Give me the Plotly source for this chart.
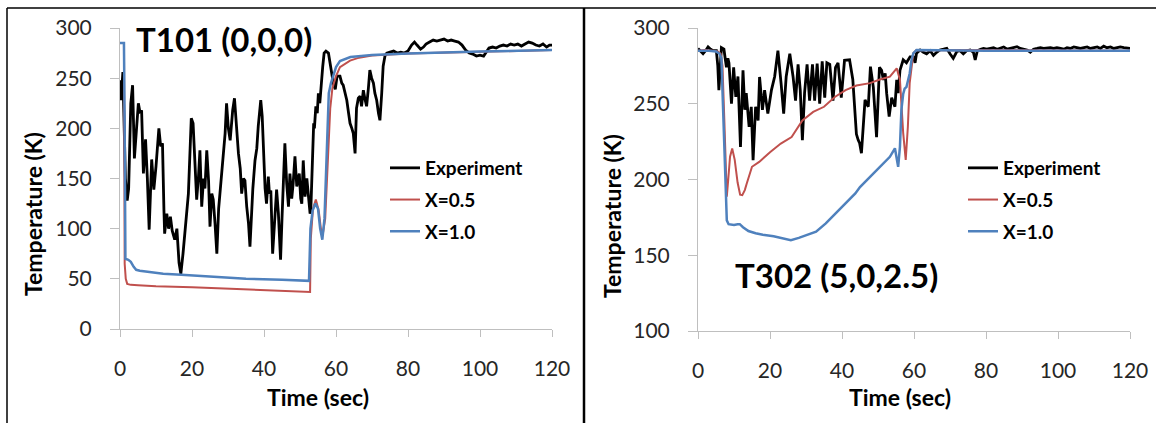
import plotly.graph_objects as go

W, H = 1156, 423

# T101 (0,0,0) - experiment
t101_exp_time = [
    0, 0.3, 0.8, 1.2, 1.5, 2.0, 2.4, 3.0, 3.5, 4.0, 4.5, 5.1, 5.6, 6.0, 6.5, 7.1, 7.6, 8.1, 8.8, 9.4,
    10.0, 10.8, 11.3, 11.8, 12.2, 12.4, 13.0, 13.5, 14.0, 14.5, 15.2, 15.8, 16.4, 16.9, 17.5, 18.0,
    18.4, 19.0, 19.5, 19.8, 20.3, 20.8, 21.3, 21.8, 22.2, 22.7, 23.2, 23.6, 24.1, 24.6, 25.0, 25.5,
    25.9, 26.4, 26.9, 27.4, 28.2, 28.7, 29.2, 29.6, 30.1, 30.6, 31.3, 31.8, 32.3, 32.9, 33.4, 33.8,
    34.3, 34.7, 35.2, 35.7, 36.1, 36.5, 36.9, 37.5, 38.0, 38.4, 39.1, 39.5, 40.0, 40.3, 40.7, 41.2,
    41.5, 41.9, 42.4, 43.0, 43.5, 44.0, 44.2, 44.6, 45.0, 45.4, 45.8, 46.3, 46.8, 47.2, 47.7, 48.1,
    48.6, 49.1, 49.8, 50.2, 50.5, 50.9, 51.4, 51.9, 52.3, 52.8, 53.0, 53.4, 53.8, 54.0, 54.4, 54.8,
    55.1, 55.5, 55.9, 56.3, 56.7, 57.2, 57.9, 58.4, 58.9, 59.3, 59.8, 60.3, 61.1, 61.6, 62.0, 62.5,
    63.0, 63.5, 63.9, 64.4, 64.8, 65.3, 65.7, 66.2, 66.7, 67.1, 67.6, 68.0, 68.5, 69.0, 69.4, 69.9,
    70.4, 70.8, 71.3, 71.8, 72.2, 72.7, 73.1, 73.6, 74.1, 75.0, 76.0, 77.0, 78.0, 79.0, 80.0, 81.0,
    81.8, 82.5, 83.5, 84.3, 85.0, 86.0, 87.0, 88.0, 89.0, 90.0, 91.0, 92.0, 93.0, 94.0, 95.0, 96.0,
    97.0, 98.0, 99.0, 100.0, 101.0, 101.8, 102.5, 103.5, 104.5, 105.5, 106.5, 107.5, 108.5, 109.5,
    110.5, 111.5, 112.5, 113.5, 114.5, 115.5, 116.5, 117.5, 118.5, 119.3, 120.0,
]
t101_exp_temp = [
    248, 228, 256, 200, 150, 128, 140, 225, 243, 170, 200, 225, 215, 218, 155, 189, 150, 99, 169, 139,
    162, 200, 182, 185, 119, 95, 115, 100, 112, 98, 89, 100, 66, 55, 75, 95,
    109, 135, 182, 210, 205, 160, 129, 152, 178, 122, 150, 140, 178, 148, 102, 135,
    129, 105, 75, 120, 152, 170, 195, 225, 200, 188, 218, 230, 202, 175, 160, 135,
    150, 148, 122, 105, 82, 120, 140, 168, 180, 202, 228, 212, 162, 140, 125, 152,
    135, 138, 75, 112, 139, 115, 99, 69, 110, 145, 185, 145, 122, 155, 130, 145,
    172, 142, 155, 130, 125, 168, 132, 150, 132, 115, 118, 165, 205, 200, 222, 215,
    235, 225, 248, 261, 275, 277, 275, 262, 250, 244, 239, 252, 252, 245, 243, 235,
    228, 215, 205, 200, 195, 175, 220, 230, 232, 222, 238, 230, 222, 240, 258, 250,
    245, 235, 228, 215, 208, 235, 262, 272, 275, 276, 277, 275, 276, 275, 277, 283,
    286, 283, 279, 281, 284, 286, 288, 287, 288, 289, 287, 288, 287, 286, 283, 278,
    275, 274, 272, 273, 272, 276, 280, 281, 280, 282, 283, 282, 284, 283,
    284, 282, 284, 286, 285, 283, 282, 284, 281, 283, 283,
]

# T101 (0,0,0) - model X=0.5
t101_x05_time = [
    0, 1.1, 1.3, 1.6, 2.0, 3.0, 5.0, 10.0, 20.0, 30.0, 40.0, 52.8, 53.0, 53.6, 54.4, 55.2, 55.8,
    56.4, 57.0, 57.5, 58.0, 58.4, 59.0, 59.9, 61.1, 63.9, 66.0, 70.0, 80.0, 100.0, 120.0,
]
t101_x05_temp = [
    285, 285, 65, 50, 45, 44, 43.5, 42.5, 41.5, 40, 38.5, 37, 90, 120, 129, 118, 100,
    96, 110, 150, 188, 220, 240, 251, 261, 267.5, 270, 272.5, 274.5, 276.5, 278,
]

# T101 (0,0,0) - model X=1.0
t101_x10_time = [
    0, 1.1, 1.3, 1.5, 2.3, 3.0, 3.8, 4.5, 5.5, 8.0, 12.0, 17.0, 25.0, 35.0, 45.0, 52.5, 52.9,
    53.5, 54.3, 55.0, 55.6, 56.2, 56.8, 57.2, 57.6, 58.0, 58.6, 59.3, 60.0, 61.1, 64.0, 70.0,
    80.0, 100.0, 120.0,
]
t101_x10_temp = [
    285, 285, 200, 70, 69, 67, 62, 59, 58, 57, 55, 54, 52, 50, 49, 48, 100,
    118, 125, 120, 100, 89, 110, 150, 208, 235, 245, 252, 261, 267, 271, 273,
    274.5, 276.5, 278,
]

# T302 (5,0,2.5) - experiment
t302_exp_time = [
    0, 0.7, 1.4, 2.1, 2.8, 3.5, 4.2, 5.1, 5.5, 5.8, 6.2, 6.5, 7.2, 7.9, 8.3, 8.6, 9.3, 9.9, 10.5,
    11.1, 11.8, 12.5, 13.0, 13.4, 14.2, 14.8, 15.3, 16.0, 16.7, 17.1, 17.9, 18.5, 19.4, 20.4, 21.3,
    22.2, 23.1, 23.8, 24.5, 25.5, 26.4, 27.1, 27.8, 28.4, 29.0, 29.6, 30.3, 31.0, 31.8, 32.4, 33.1,
    33.8, 34.5, 35.2, 35.8, 36.6, 37.5, 38.2, 38.9, 39.8, 40.7, 42.1, 43.0, 43.6, 44.0, 44.5, 44.9,
    45.4, 46.0, 46.4, 47.3, 47.9, 48.7, 49.6, 50.4, 51.0, 51.5, 52.0, 52.4, 53.1, 53.8, 54.7, 55.2,
    55.6, 56.1, 57.0, 57.9, 58.9, 59.8, 60.3, 60.7, 61.7, 62.6, 63.5, 64.5, 65.4, 66.3, 67.2, 68.2,
    69.1, 70.0, 70.9, 71.9, 72.8, 73.7, 74.6, 75.6, 76.5, 77.0, 77.6, 78.5, 79.3, 80.2, 81.2, 82.1,
    83.1, 84.0, 84.9, 85.9, 86.8, 87.7, 88.6, 89.5, 90.5, 91.4, 92.3, 93.2, 94.2, 95.1, 96.0, 97.0,
    97.9, 98.8, 99.7, 100.7, 101.6, 102.5, 103.4, 104.4, 105.3, 106.2, 107.2, 108.1, 109.0, 110.0,
    110.9, 111.8, 112.7, 113.6, 114.6, 115.5, 116.4, 117.3, 118.3, 119.2, 120.0,
]
t302_exp_temp = [
    286.4, 285, 283, 285, 287.5, 286, 285, 285, 275, 259, 280, 287, 286, 274, 280, 277, 250, 274, 254.5,
    268, 221.5, 272, 246, 257, 234.7, 248, 212.7, 248, 239, 267.7, 246, 259, 243.5, 259, 268,
    285, 263, 243.5, 268, 283, 268, 252, 276, 259, 226, 257, 276, 252, 276, 252, 276.5,
    250, 278, 254, 277, 276, 252, 274, 277, 254, 278.7, 279, 266, 245, 230, 226, 224,
    217.4, 240, 252.5, 248, 274.5, 261, 228, 274, 272, 265.7, 270, 257, 241.5, 254, 248, 265.7,
    257, 272, 279, 277, 281, 281, 277, 283.3, 285.5, 284, 283, 285, 282, 284, 285.5, 286,
    286.5, 283, 280, 284.5, 285, 283, 285, 285.5, 284, 279, 285, 286, 286.5, 286, 286.5, 287,
    286, 286.5, 287.5, 286, 286.5, 287, 287.7, 286.5, 286, 285.5, 284, 286, 286.5, 287, 286.5, 287,
    287, 286.5, 287, 286.5, 286, 287, 286.5, 287.5, 287, 286.5, 287, 287.5, 286.5, 287,
    287.5, 286.5, 288, 287, 287.5, 286.5, 287, 287.5, 287, 286.5, 286.5,
]

# T302 (5,0,2.5) - model X=0.5
t302_x05_time = [
    0, 2.0, 4.0, 5.5, 6.3, 6.8, 7.3, 7.7, 8.0, 8.4, 8.9, 9.5, 10.2, 11.0, 11.7, 12.3, 13.0, 13.5,
    15.0, 17.0, 20.0, 23.0, 26.0, 29.0, 32.0, 35.0, 38.0, 41.0, 44.0, 47.8, 50.5, 53.3, 55.2, 56.1,
    57.0, 57.7, 58.3, 58.8, 59.8, 60.7, 70.0, 90.0, 120.0,
]
t302_x05_temp = [
    285, 285.5, 285, 284.5, 283, 275, 240, 200, 188.6, 200, 215, 220.4, 213, 198, 190, 189.7, 193, 197,
    208.4, 211.6, 218, 223.7, 228, 239, 244.6, 248, 254.5, 259, 262, 263.6, 266, 267.9, 273.4, 265.7,
    230.6, 212.9, 235, 263.6, 283.3, 285.5, 285.5, 285, 285,
]

# T302 (5,0,2.5) - model X=1.0
t302_x10_time = [
    0, 3.0, 5.0, 6.0, 6.5, 6.9, 7.3, 7.7, 8.0, 8.5, 10.0, 11.0, 11.6, 12.5, 14.0, 16.0, 18.0, 21.0,
    24.0, 25.8, 28.0, 30.0, 32.8, 35.5, 38.2, 41.0, 43.7, 45.0, 47.8, 50.6, 53.3, 54.7, 55.2, 55.6,
    56.1, 56.5, 57.0, 57.4, 57.9, 58.3, 58.8, 59.3, 59.8, 60.7, 80.0, 100.0, 120.0,
]
t302_x10_temp = [
    285, 285, 284.5, 283, 280, 250, 210, 180, 173, 170.5, 170, 170.5, 170.5, 168.5, 166, 164.5, 163.5, 162.5,
    161, 160, 161.5, 163, 165.5, 171, 177.6, 184, 190.8, 195, 201.8, 208.4, 215, 220.6, 215, 208.4,
    221.7, 245.9, 256.5, 260, 261, 265.7, 270, 278.8, 283.3, 285.5, 285, 285, 285,
]

x_ticks = [0, 20, 40, 60, 80, 100, 120]
t101_y_ticks = [0, 50, 100, 150, 200, 250, 300]
t302_y_ticks = [100, 150, 200, 250, 300]

BLACK = "#000000"
RED = "#c0504d"
BLUE = "#4f81bd"
FONT = "Lato"
AXIS_GREY = "#bfbfbf"


def px_x(p):
    return p / W


def px_y(p):
    return 1 - p / H


fig = go.Figure()

panels = [
    ("x", "y", "legend", t101_exp_time, t101_exp_temp, t101_x05_time, t101_x05_temp, t101_x10_time, t101_x10_temp),
    ("x2", "y2", "legend2", t302_exp_time, t302_exp_temp, t302_x05_time, t302_x05_temp, t302_x10_time, t302_x10_temp),
]
for xa, ya, leg, et, ev, rt, rv, bt, bv in panels:
    series = [
        ("Experiment", et, ev, BLACK, 2.8),
        ("X=0.5", rt, rv, RED, 2),
        ("X=1.0", bt, bv, BLUE, 2.5),
    ]
    for name, xs, ys, color, width in series:
        fig.add_trace(go.Scatter(x=xs, y=ys, mode="lines", name=name, xaxis=xa, yaxis=ya,
                                 legend=leg, legendgroup=leg + name,
                                 line=dict(color=color, width=width)))

tick_font = dict(family=FONT, size=21, color="#262626")
xaxis_style = dict(
    range=[0, 120], tickvals=x_ticks, showgrid=False, zeroline=False, showline=True,
    linecolor=AXIS_GREY, linewidth=1, ticks="outside", ticklen=7, tickcolor=AXIS_GREY,
    tickfont=tick_font, ticklabelstandoff=14, automargin=False,
)
yaxis_style = dict(
    showgrid=False, zeroline=False, showline=True, linecolor=AXIS_GREY, linewidth=1,
    ticks="outside", ticklen=9, tickcolor=AXIS_GREY, tickfont=tick_font, ticklabelstandoff=14,
    automargin=False,
)

legend_style = dict(
    font=dict(family=FONT, size=19, color="#000000", weight="bold"), bgcolor="rgba(0,0,0,0)",
    xanchor="left", yanchor="top", itemwidth=30, tracegroupgap=4,
)

fig.update_layout(
    width=W, height=H, margin=dict(l=0, r=0, t=0, b=0, autoexpand=False),
    paper_bgcolor="white", plot_bgcolor="white",
    xaxis=dict(domain=[px_x(120), px_x(552)], anchor="y", **xaxis_style),
    yaxis=dict(domain=[px_y(329), px_y(28)], anchor="x", range=[0, 300], tickvals=t101_y_ticks, **yaxis_style),
    xaxis2=dict(domain=[px_x(698), px_x(1130)], anchor="y2", **xaxis_style),
    yaxis2=dict(domain=[px_y(331), px_y(28)], anchor="x2", range=[100, 300], tickvals=t302_y_ticks, **yaxis_style),
    legend=dict(x=px_x(385), y=px_y(149), **legend_style),
    legend2=dict(x=px_x(963), y=px_y(149), **legend_style),
    showlegend=True,
)

title_font = dict(family=FONT, size=23, color="#000000", weight="bold")
label_font = dict(family=FONT, size=33, color="#000000", weight="bold")
annotations = [
    dict(text="Time (sec)", x=px_x(318), y=px_y(397), font=title_font),
    dict(text="Time (sec)", x=px_x(900), y=px_y(397), font=title_font),
    dict(text="Temperature (K)", x=px_x(33), y=px_y(214), font=title_font, textangle=-90),
    dict(text="Temperature (K)", x=px_x(612), y=px_y(216), font=title_font, textangle=-90),
    dict(text="T101 (0,0,0)", x=px_x(224), y=px_y(39), font=label_font),
    dict(text="T302 (5,0,2.5)", x=px_x(836), y=px_y(275), font=label_font),
]
for a in annotations:
    fig.add_annotation(xref="paper", yref="paper", showarrow=False, xanchor="center", yanchor="middle", **a)

# panel frames
frame = dict(type="line", xref="paper", yref="paper", line=dict(color="#000000", width=1.5))
fig.add_shape(x0=px_x(7), x1=1, y0=px_y(8), y1=px_y(8), **frame)
fig.add_shape(x0=px_x(7), x1=px_x(7), y0=px_y(8), y1=0, **frame)
fig.add_shape(type="line", xref="paper", yref="paper", x0=px_x(584), x1=px_x(584), y0=px_y(8), y1=0,
              line=dict(color="#000000", width=2.5))

fig.write_html("out.html", config={"displayModeBar": False},
               post_script="document.body.style.margin = '0';")
